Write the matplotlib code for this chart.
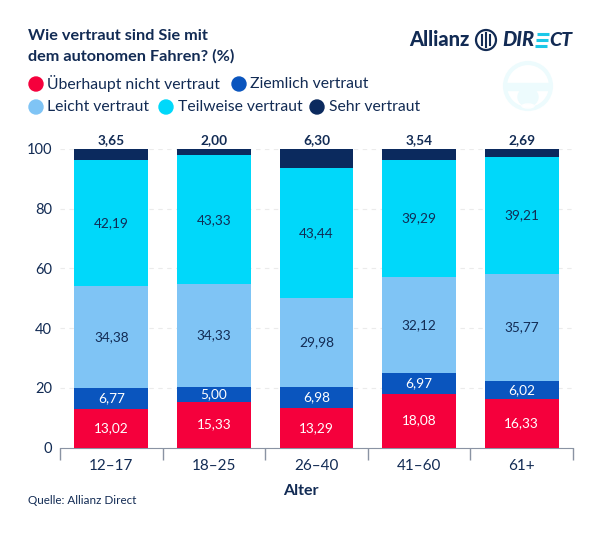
import matplotlib
matplotlib.use('Agg')
import matplotlib.pyplot as plt
from matplotlib.patches import Circle, Ellipse, Rectangle

plt.rcParams['font.family'] = ['Lato', 'DejaVu Sans']

# Data
ages = ['12–17', '18–25', '26–40', '41–60', '61+']
ueberhaupt = [13.02, 15.33, 13.29, 18.08, 16.33]
ziemlich = [6.77, 5.00, 6.98, 6.97, 6.02]
leicht = [34.38, 34.33, 29.98, 32.12, 35.77]
teilweise = [42.19, 43.33, 43.44, 39.29, 39.21]
sehr = [3.65, 2.00, 6.30, 3.54, 2.69]
series_names = ['Überhaupt nicht vertraut', 'Ziemlich vertraut', 'Leicht vertraut',
                'Teilweise vertraut', 'Sehr vertraut']

navy = '#122B54'
colors = ['#F5003C', '#0A55BE', '#7FC4F5', '#00D8FA', '#0B2A5E']
label_colors = ['white', 'white', navy, navy]
axis_grey = '#8A93A3'

fig = plt.figure(figsize=(6.02, 5.36), dpi=100)
ax = fig.add_axes([60 / 602, 1 - 447.5 / 536, 513 / 602, 298.5 / 536])

# Stacked bars
bottom = [0] * len(ages)
for i, vals in enumerate([ueberhaupt, ziemlich, leicht, teilweise, sehr]):
    ax.bar(range(len(ages)), vals, bottom=bottom, width=0.72, color=colors[i], zorder=3)
    for j, v in enumerate(vals):
        txt = f'{v:.2f}'.replace('.', ',')
        if i < 4:
            ax.text(j, bottom[j] + v / 2, txt, ha='center', va='center', fontsize=9.8,
                    color=label_colors[i], zorder=4)
        else:
            ax.text(j, 101, txt, ha='center', va='bottom', fontsize=9.8, color=navy,
                    fontweight='bold')
    bottom = [b + v for b, v in zip(bottom, vals)]

ax.set_xlim(-0.5, 4.5)
ax.set_ylim(0, 100)
ax.set_yticks(range(0, 101, 20))
ax.yaxis.grid(True, color='#EBEBEB', linestyle=(0, (4, 4)), linewidth=0.8, zorder=0)
ax.tick_params(axis='y', length=0, labelsize=10.5, labelcolor=navy, pad=5.8)
ax.set_xticks([-0.5, 0.5, 1.5, 2.5, 3.5, 4.5])
ax.set_xticklabels([])
ax.tick_params(axis='x', length=8.6, color=axis_grey, width=1)
for k, a in enumerate(ages):
    ax.text(k, -3.7, a, ha='center', va='top', fontsize=11, color=navy)
for s in ['top', 'left', 'right']:
    ax.spines[s].set_visible(False)
ax.spines['bottom'].set_color(axis_grey)

fig.text(301 / 602, 1 - 491 / 536, 'Alter', ha='center', va='center', fontsize=11.5,
         fontweight='bold', color=navy)
fig.text(28 / 602, 1 - 500 / 536, 'Quelle: Allianz Direct', ha='left', va='center',
         fontsize=8.4, color=navy)

# Title
fig.text(28 / 602, 1 - 36 / 536, 'Wie vertraut sind Sie mit', ha='left', va='center',
         fontsize=11.7, fontweight='bold', color=navy)
fig.text(28 / 602, 1 - 56 / 536, 'dem autonomen Fahren? (%)', ha='left', va='center',
         fontsize=11.7, fontweight='bold', color=navy)

# Overlay for legend dots, logo and icon in pixel coordinates
ov = fig.add_axes([0, 0, 1, 1], zorder=-1)
ov.set_xlim(0, 602)
ov.set_ylim(536, 0)
ov.axis('off')
legend_pos = [(36, 84, 47), (239, 84, 250), (36, 107, 47), (166, 107, 178), (317, 107, 329)]
for (dx, y, tx), c, name in zip(legend_pos, colors, series_names):
    ov.add_patch(Circle((dx, y), 7, color=c))
    ov.text(tx, y, name, ha='left', va='center', fontsize=11.35, color=navy)

# Steering wheel icon
icon = '#EDFBFD'
ov.add_patch(Circle((528, 86), 23, fill=False, ec=icon, lw=3))
ov.add_patch(Rectangle((507, 83), 42, 7, color=icon))
ov.add_patch(Ellipse((528, 97), 20, 18, color=icon))
ov.add_patch(Ellipse((528, 106), 12, 4, color='white'))

# Logo
ov.text(409, 40, 'Allianz', ha='left', va='center', fontsize=14.5, fontweight='black', color=navy)
ov.add_patch(Circle((486, 40), 10, fill=False, ec=navy, lw=1.6))
for lx, half in [(482, 5), (486, 7), (490, 5)]:
    ov.plot([lx, lx], [40 - half, 40 + half], color=navy, lw=1.5)
ov.text(502, 40, 'DIR', ha='left', va='center', fontsize=14.5, fontweight='black',
        style='italic', color=navy)
# cyan bars of the logo's E
for ey in [34, 40, 46]:
    ov.plot([536 - (ey - 40) * 0.2, 548 - (ey - 40) * 0.2], [ey, ey], color='#1CC8E8', lw=2.2,
            solid_capstyle='butt')
ov.text(549, 40, 'CT', ha='left', va='center', fontsize=14, fontweight='black',
        style='italic', color=navy)

fig.savefig('out.png', dpi=100)
